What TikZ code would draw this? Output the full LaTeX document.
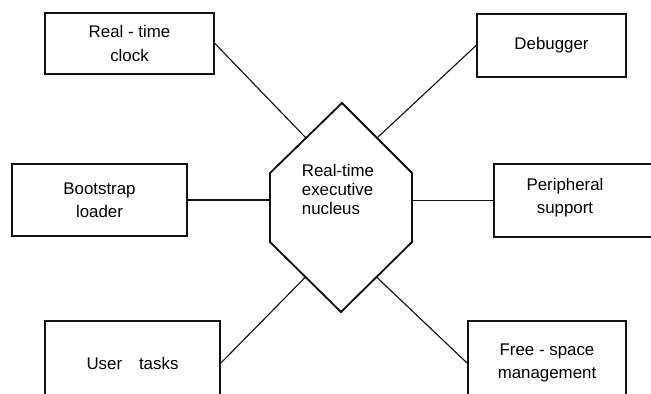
\documentclass[tikz,border=0pt]{standalone}
\usepackage{fontspec}
\setmainfont{Liberation Sans}
\usepackage{xcolor}
\definecolor{Ink}{HTML}{111111}
\usepackage{tikz}
\usetikzlibrary{calc}

\begin{document}
\begin{tikzpicture}[x=0.025cm,y=-0.025cm,
  box/.style={draw=Ink,line width=1.3pt,font=\fontsize{12}{16.5}\selectfont,align=center,inner sep=0pt},
  link/.style={draw=Ink,line width=0.8pt}]
\useasboundingbox (0,0) rectangle (651,394);
\clip (0,0) rectangle (651,394);
% nucleus outline
\coordinate (nt) at (342,103);
\coordinate (nur) at (412,173);
\coordinate (nlr) at (412,242);
\coordinate (nb) at (341,312);
\coordinate (nll) at (270,242);
\coordinate (nul) at (270,173);
\draw[Ink,line width=1.3pt] (nt)--(nur)--(nlr)--(nb)--(nll)--(nul)--cycle;
\coordinate (m-ul) at ($(nul)!0.5!(nt)$);
\coordinate (m-ur) at ($(nt)!0.5!(nur)$);
\coordinate (m-ll) at ($(nll)!0.5!(nb)$);
\coordinate (m-lr) at ($(nb)!0.5!(nlr)$);
\node[font=\fontsize{12}{13.5}\selectfont,align=left] (nuc) at (338,189) {Real-time\\executive\\nucleus};
% outer modules
\node[box,minimum width=4.225cm,minimum height=1.525cm] (clock) at (129.5,43.5) {Real - time\\clock};
\node[box,minimum width=4.375cm,minimum height=1.8cm] (boot) at (99.5,200) {Bootstrap\\loader};
\node[box,minimum width=4.375cm,minimum height=2.1cm] (user) at (132.5,363) {User\quad tasks};
\node[box,minimum width=3.725cm,minimum height=1.575cm] (debug) at (551.5,45.5) {Debugger};
\node[box,minimum width=5cm,minimum height=1.825cm,
  label={[font=\fontsize{12}{16.5}\selectfont,align=center,xshift=-0.725cm,yshift=0.08cm]center:{Peripheral\\support}}] (per) at (594,200.5) {};
\node[box,minimum width=3.95cm,minimum height=2.1cm] (free) at (547,363) {Free - space\\management};
% links to the nucleus
\draw[link] (clock.east) -- (m-ul);
\draw[link] (debug.west) -- (m-ur);
\draw[link] (boot.east) -- (boot.east -| nul);
\draw[link] (per.west) -- (per.west -| nur);
\draw[link] (user.east) -- (m-ll);
\draw[link] (free.west) -- (m-lr);
\end{tikzpicture}
\end{document}
